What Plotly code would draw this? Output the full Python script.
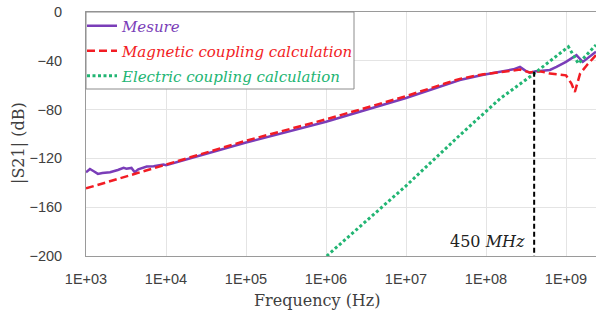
import plotly.graph_objects as go

# ---- data ----
mesure_f = [1e3, 1.12e3, 1.25e3, 1.41e3, 1.6e3, 2.0e3, 2.5e3, 2.95e3, 3.2e3, 3.7e3, 4.07e3,
            4.5e3, 5.75e3, 7e3, 9.3e3, 1e4, 1e5, 1e6, 1e7, 3e7, 4.7e7, 9.3e7, 1.5e8,
            2.2e8, 2.66e8, 3.1e8, 3.55e8, 4.2e8, 4.7e8, 6.3e8, 7.6e8, 1e9, 1.35e9,
            1.62e9, 2.37e9]
mesure_db = [-131.4, -128.7, -130.5, -132.7, -132.0, -131.4, -129.5, -127.8, -128.5, -127.8,
             -131.4, -129.0, -126.7, -126.5, -125.1, -125.5, -107.0, -90.0, -70.5, -60.2,
             -55.8, -51.5, -49.1, -47.0, -45.0, -48.0, -49.8, -48.5, -48.3, -47.5, -45.0,
             -40.9, -35.4, -40.9, -32.5]

magnetic_f = [1e3, 1e4, 1e5, 1e6, 1e7, 3e7, 4.7e7, 9.3e7, 1.5e8, 2.66e8, 3.5e8, 4.7e8,
              6.3e8, 1e9, 1.17e9, 1.29e9, 1.5e9, 1.82e9, 2.37e9]
magnetic_db = [-144.6, -125.0, -105.5, -88.0, -69.0, -58.8, -54.8, -51.0, -49.0, -47.2,
               -49.5, -48.5, -50.5, -51.9, -58.7, -65.6, -50.5, -43.6, -35.4]

electric_f = [1.02e6, 1e7, 4.7e7, 1.5e8, 3.9e8, 1.07e9, 1.43e9, 2.37e9]
electric_db = [-200.0, -142.5, -101.0, -71.0, -51.0, -28.5, -42.3, -27.0]

marker_f = [4.0e8, 4.0e8]
marker_db = [-49.0, -200.0]

x_tickvals = [1e3, 1e4, 1e5, 1e6, 1e7, 1e8, 1e9]
x_ticktext = ["1E+03", "1E+04", "1E+05", "1E+06", "1E+07", "1E+08", "1E+09"]
y_tickvals = [0, -40, -80, -120, -160, -200]

purple = "#7A3DB8"
red = "#F21C24"
green = "#22B573"
serif = "DejaVu Serif"
sans = "Liberation Sans"

# layout geometry (pixels)
W, H = 596, 316
L, R, T, B = 86, 0, 12, 60
PW, PH = W - L - R, H - T - B


def px_x(x):
    return (x - L) / PW


def px_y(y):
    return 1 - (y - T) / PH


fig = go.Figure()
fig.add_trace(go.Scatter(x=mesure_f, y=mesure_db, mode="lines", legend="legend",
                         name=f'<span style="color:{purple}"><i>Mesure</i></span>',
                         line=dict(color=purple, width=2.5)))
fig.add_trace(go.Scatter(x=magnetic_f, y=magnetic_db, mode="lines", legend="legend2",
                         name=f'<span style="color:{red}"><i>Magnetic coupling calculation</i></span>',
                         line=dict(color=red, width=2.5, dash="8px,4px")))
fig.add_trace(go.Scatter(x=electric_f, y=electric_db, mode="lines", legend="legend3",
                         name=f'<span style="color:{green}"><i>Electric coupling calculation</i></span>',
                         line=dict(color=green, width=3, dash="3px,2.5px")))
fig.add_trace(go.Scatter(x=marker_f, y=marker_db, mode="lines", showlegend=False,
                         line=dict(color="black", width=2, dash="5px,3px")))

# legend frame
fig.add_shape(type="rect", xref="paper", yref="paper", x0=0, x1=px_x(354), y0=px_y(89), y1=1,
              fillcolor="white", line=dict(color="#8C8C8C", width=1), layer="above")

leg_common = dict(xanchor="left", yanchor="middle", bgcolor="rgba(0,0,0,0)", borderwidth=0,
                  font=dict(family=serif, size=15), itemwidth=30)
fig.update_layout(
    legend=dict(x=px_x(82), y=px_y(26), **leg_common),
    legend2=dict(x=px_x(82), y=px_y(51), **leg_common),
    legend3=dict(x=px_x(82), y=px_y(76), **leg_common),
)

fig.add_annotation(x=8.6, y=-200, xref="x", yref="y", xanchor="right", yanchor="bottom",
                   yshift=3, xshift=-7, text="450 <i>MHz</i>", showarrow=False,
                   font=dict(family=serif, size=16, color="#222222"))
fig.add_annotation(x=px_x(317), y=px_y(300), xref="paper", yref="paper", showarrow=False,
                   xanchor="center", yanchor="middle",
                   text="Frequency (Hz)", font=dict(family=serif, size=16, color="#404040"))
fig.add_annotation(x=px_x(18), y=px_y(143), xref="paper", yref="paper", showarrow=False,
                   xanchor="center", yanchor="middle", textangle=-90,
                   text="|S21| (dB)", font=dict(family=serif, size=16, color="#404040"))

fig.update_layout(
    width=W, height=H,
    margin=dict(l=L, r=R, t=T, b=B, autoexpand=False),
    paper_bgcolor="white", plot_bgcolor="white",
    showlegend=True,
    yaxis=dict(range=[-200, 0], tickvals=y_tickvals, showgrid=True, gridcolor="#E4E4E4",
               zeroline=False, showline=True, linecolor="#9A9A9A", mirror=True,
               ticks="", ticklabelstandoff=20, automargin=False,
               tickfont=dict(family=sans, size=14.5, color="#404040")),
    xaxis=dict(type="log", range=[3, 9.375], tickvals=x_tickvals, ticktext=x_ticktext,
               showgrid=True, gridcolor="#E4E4E4", zeroline=False, showline=True,
               linecolor="#9A9A9A", mirror=True, ticks="", ticklabelstandoff=10,
               automargin=False,
               tickfont=dict(family=sans, size=14.5, color="#404040")),
)
fig.write_html("out.html", config={"displayModeBar": False},
               post_script="document.body.style.margin='0px';")
